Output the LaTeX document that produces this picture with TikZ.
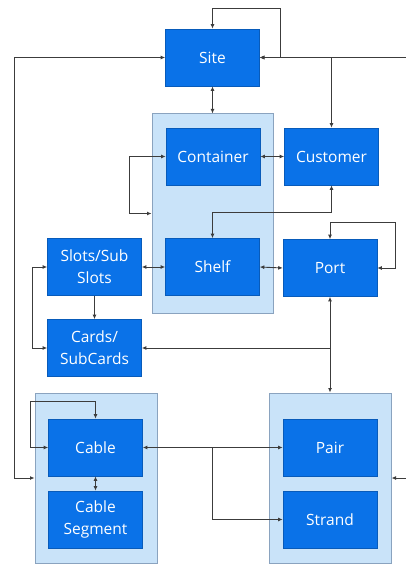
\documentclass[tikz,border=0pt]{standalone}
\usepackage{fontspec}
\setmainfont{Open Sans}
\usetikzlibrary{arrows.meta,calc}
\definecolor{boxblue}{HTML}{0A72E8}
\definecolor{grpfill}{HTML}{C9E3F9}
\definecolor{grpline}{HTML}{8AA3BF}
\definecolor{wire}{HTML}{3C3C3C}
\tikzset{
  entity/.style={draw=boxblue!80!black, line width=0.6pt, fill=boxblue, text=white,
    minimum width=94pt, minimum height=57pt, inner sep=0pt, align=center,
    font=\fontsize{15.5}{22}\selectfont},
  group/.style={draw=grpline, line width=1pt, fill=grpfill},
  link/.style={draw=wire, line width=0.9pt, arrows={-Latex[length=4.5pt,width=4pt]}},
  bilink/.style={draw=wire, line width=0.9pt, arrows={Latex[length=4.5pt,width=4pt]-Latex[length=4.5pt,width=4pt]}},
}
\begin{document}
\begin{tikzpicture}[x=1pt,y=-1pt]
\useasboundingbox (0,0) rectangle (406,567);
\fill[white] (0,0) rectangle (406,567);

% grouping panels
\node[group, minimum width=121pt, minimum height=199pt, inner sep=0pt] (grpC) at (212.5,213.5) {};
\node[group, minimum width=122pt, minimum height=170pt, inner sep=0pt] (grpCable) at (96,478) {};
\node[group, minimum width=122pt, minimum height=170pt, inner sep=0pt] (grpPair) at (330,478) {};

% entities
\node[entity] (site) at (212.5,57.5) {Site};
\node[entity] (container) at (213,156.5) {Container};
\node[entity] (customer) at (331.5,156.5) {Customer};
\node[entity] (shelf) at (212.5,267) {Shelf};
\node[entity] (port) at (330,268) {Port};
\node[entity] (slots) at (94.5,267) {Slots/Sub\\Slots};
\node[entity] (cards) at (94.5,348) {Cards/\\SubCards};
\node[entity] (cable) at (95.5,447.5) {Cable};
\node[entity] (segment) at (95.5,519.5) {Cable\\Segment};
\node[entity] (pair) at (330,447.5) {Pair};
\node[entity] (strand) at (330,519.5) {Strand};

% connectors
\draw[bilink] (site.north) |- (280,8) |- (site.east);
\draw[bilink] (customer.north) |- (site.east);
\draw[bilink] (site.east) -- ++(150,0) |- (grpPair.east);
\draw[bilink] (site.west) -- (14,57.5) |- (grpCable.west);
\draw[bilink] (site.south) -- (grpC.north);
\draw[bilink] (container.east) -- (customer.west);
\draw[bilink] (container.west) -- ++(-36,0) |- (grpC.west);
\draw[bilink] (customer.south) -- ++(0,27) -| (shelf.north);
\draw[bilink] (slots.east) -- (shelf.west);
\draw[bilink] (shelf.east) -- (port.west);
\draw[bilink] (port.north) |- (395,222) |- (port.east);
\draw[link] (slots.south) -- (cards.north);
\draw[bilink] (slots.west) -- ++(-15,0) |- (cards.west);
\draw[bilink] (port.south) -- (grpPair.north);
\draw[link] (port.south |- cards.east) -- (cards.east);
\draw[bilink] (cable.north) |- (30,401) |- (cable.west);
\draw[bilink] (cable.south) -- (segment.north);
\draw[bilink] (cable.east) -- (pair.west);
\coordinate (fork) at ($(cable.east)!0.5!(pair.west)$);
\draw[link] (fork) |- (strand.west);
\end{tikzpicture}
\end{document}
